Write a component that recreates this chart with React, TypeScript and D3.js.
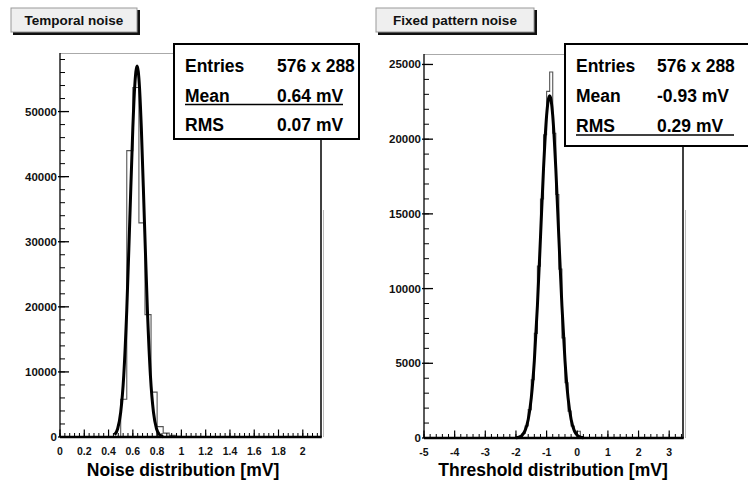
import * as d3 from 'd3';

// ---- Temporal noise (left) ----
const noiseBinWidth = 0.05;
const noiseBinStart = [0.5, 0.55, 0.6, 0.65, 0.7, 0.75, 0.8, 0.85, 0.9, 0.95];
const noiseCounts = [5800, 44000, 53700, 32900, 18800, 6900, 1600, 600, 250, 100];
const noiseFitX = [0.45, 0.475, 0.5, 0.525, 0.55, 0.575, 0.6, 0.615, 0.635, 0.655, 0.67, 0.695, 0.72, 0.745, 0.77, 0.795, 0.82, 0.85];
const noiseFitY = [350, 1270, 3800, 9400, 19500, 33400, 47500, 53700, 57000, 53700, 47500, 33400, 19500, 9400, 3800, 1270, 350, 30];
const noiseStats = [['Entries', '576 x 288'], ['Mean', '0.64 mV'], ['RMS', '0.07 mV']];

// ---- Fixed pattern noise (right) ----
const fpnBinWidth = 0.1;
const fpnBinStart = [-2.0, -1.9, -1.8, -1.7, -1.6, -1.5, -1.4, -1.3, -1.2, -1.1, -1.0, -0.9, -0.8, -0.7, -0.6, -0.5, -0.4, -0.3, -0.2, -0.1, 0.0, 0.1];
const fpnCounts = [30, 100, 300, 800, 1900, 3900, 7000, 11500, 16000, 20300, 23200, 24500, 20400, 16300, 11300, 6700, 3700, 1800, 800, 400, 450, 100];
const fpnFitX = [-2.0, -1.9, -1.8, -1.7, -1.6, -1.5, -1.4, -1.3, -1.2, -1.1, -1.0, -0.95, -0.9, -0.85, -0.8, -0.7, -0.6, -0.5, -0.4, -0.3, -0.2, -0.1, 0.0, 0.1, 0.2];
const fpnFitY = [17, 60, 185, 510, 1240, 2690, 5180, 8850, 13400, 18050, 21580, 22560, 22900, 22560, 21580, 18050, 13400, 8850, 5180, 2690, 1240, 510, 185, 60, 17];
const fpnStats = [['Entries', '576 x 288'], ['Mean', '-0.93 mV'], ['RMS', '0.29 mV']];

const font = "'Liberation Sans', Arial, Helvetica, sans-serif";

type PanelProps = {
  title: string;
  titleBox: [number, number, number, number];
  xDomain: [number, number];
  xRange: [number, number];
  yDomain: [number, number];
  yRange: [number, number];
  xMajor: number;
  xMinor: number;
  yMajor: number;
  yMinor: number;
  xFmt: (v: number) => string;
  xTitle: string;
  xTitleX: number;
  binStart: number[];
  binWidth: number;
  counts: number[];
  fitX: number[];
  fitY: number[];
  stats: string[][];
  statsBox: [number, number, number, number];
  valueX: number;
  rowBase: number[];
  underlineRow: number;
  underlineEnd: number;
};

function Panel(p: PanelProps) {
  const x = d3.scaleLinear().domain(p.xDomain).range(p.xRange);
  const y = d3.scaleLinear().domain(p.yDomain).range(p.yRange);
  const [x0, x1] = p.xRange;
  const [yb, yt] = p.yRange;

  const histPts: [number, number][] = [[p.binStart[0], 0]];
  p.binStart.forEach((e, i) => {
    histPts.push([e, p.counts[i]]);
    histPts.push([e + p.binWidth, p.counts[i]]);
  });
  histPts.push([p.binStart[p.binStart.length - 1] + p.binWidth, 0]);
  const histPath = d3.line<[number, number]>().x(d => x(d[0])).y(d => y(d[1]))(histPts) || '';

  const fitPath = d3.line<number>()
    .x(d => x(p.fitX[d]))
    .y(d => y(p.fitY[d]))
    .curve(d3.curveMonotoneX)(p.fitX.map((_, i) => i)) || '';

  const eps = 1e-9;
  const xMaj = d3.range(p.xDomain[0], p.xDomain[1] + eps, p.xMajor);
  const xMin = d3.range(p.xDomain[0], p.xDomain[1] + eps, p.xMinor);
  const yMaj = d3.range(p.yDomain[0], p.yDomain[1] + eps, p.yMajor);
  const yMin = d3.range(p.yDomain[0], p.yDomain[1] + eps, p.yMinor);

  const [bx, by, bw, bh] = p.statsBox;
  const [tx, ty, tw, th] = p.titleBox;

  return (
    <g fontFamily={font} fontWeight="bold">
      {/* title box */}
      <rect x={tx + 2} y={ty + 2} width={tw + 1} height={th + 1} fill="#111" />
      <rect x={tx} y={ty} width={tw} height={th} fill="#efefef" stroke="#999" strokeWidth={1} />
      <text x={tx + tw / 2} y={ty + th / 2 + 5} textAnchor="middle" fontSize={13.5} fill="#111">{p.title}</text>

      {/* frame */}
      <line x1={x0} x2={bx} y1={yt + 0.5} y2={yt + 0.5} stroke="#aaa" strokeWidth={1} />
      <line x1={x1} x2={x1} y1={by + bh} y2={yb} stroke="#000" strokeWidth={1.5} />
      <line x1={x1 + 2.5} x2={x1 + 2.5} y1={210} y2={yb} stroke="#bbb" strokeWidth={1} />

      {/* histogram and fit */}
      <path d={histPath} fill="none" stroke="#555" strokeWidth={1.1} />
      <path d={fitPath} fill="none" stroke="#000" strokeWidth={3} strokeLinejoin="round" />

      {/* y axis */}
      <line x1={x0} x2={x0} y1={yt} y2={yb} stroke="#000" strokeWidth={1.3} />
      {yMin.map(v => (
        <line key={'ym' + v} x1={x0} x2={x0 + 5} y1={y(v)} y2={y(v)} stroke="#000" strokeWidth={1} />
      ))}
      {yMaj.map(v => (
        <g key={'yM' + v}>
          <line x1={x0 - 2} x2={x0 + 9} y1={y(v)} y2={y(v)} stroke="#000" strokeWidth={1.3} />
          <text x={x0 - 3} y={y(v) + 4} textAnchor="end" fontSize={11.5} fill="#111">{v}</text>
        </g>
      ))}

      {/* x axis */}
      {xMin.map(v => (
        <line key={'xm' + v} x1={x(v)} x2={x(v)} y1={yb} y2={yb - 4} stroke="#000" strokeWidth={1} />
      ))}
      {xMaj.map(v => (
        <g key={'xM' + v}>
          <line x1={x(v)} x2={x(v)} y1={yb} y2={yb - 7.5} stroke="#000" strokeWidth={1.2} />
          <text x={x(v)} y={yb + 18} textAnchor="middle" fontSize={10.5} fill="#111">{p.xFmt(v)}</text>
        </g>
      ))}
      <line x1={x0} x2={x1 + 0.75} y1={yb} y2={yb} stroke="#000" strokeWidth={2.5} />
      <text x={p.xTitleX} y={476} textAnchor="middle" fontSize={17.5} fill="#000">{p.xTitle}</text>

      {/* stats box */}
      <rect x={bx} y={by} width={bw} height={bh} fill="#fff" stroke="#000" strokeWidth={2} />
      {p.stats.map((row, i) => (
        <g key={row[0]}>
          <text x={bx + 11} y={p.rowBase[i]} fontSize={17.5} fill="#000">{row[0]}</text>
          <text x={p.valueX} y={p.rowBase[i]} fontSize={17.5} fill="#000">{row[1]}</text>
        </g>
      ))}
      <line x1={bx + 11} x2={p.underlineEnd} y1={p.rowBase[p.underlineRow] + 3} y2={p.rowBase[p.underlineRow] + 3} stroke="#000" strokeWidth={1.6} />
    </g>
  );
}

export default function App() {
  return (
    <svg width={748} height={482} style={{ position: 'absolute', left: 0, top: 0, background: '#fff' }}>
      <rect width={748} height={482} fill="#fff" />
      <Panel
        title="Temporal noise"
        titleBox={[11, 8, 126, 24]}
        xDomain={[0, 2.15]}
        xRange={[60, 321]}
        yDomain={[0, 59000]}
        yRange={[437, 53]}
        xMajor={0.2}
        xMinor={0.04}
        yMajor={10000}
        yMinor={2000}
        xFmt={v => String(+v.toFixed(1))}
        xTitle="Noise distribution [mV]"
        xTitleX={183}
        binStart={noiseBinStart}
        binWidth={noiseBinWidth}
        counts={noiseCounts}
        fitX={noiseFitX}
        fitY={noiseFitY}
        stats={noiseStats}
        statsBox={[174, 44, 185, 95]}
        valueX={277}
        rowBase={[71.5, 101.5, 131]}
        underlineRow={1}
        underlineEnd={343}
      />
      <Panel
        title="Fixed pattern noise"
        titleBox={[376, 8, 158, 24]}
        xDomain={[-5, 3.45]}
        xRange={[424, 683]}
        yDomain={[0, 25700]}
        yRange={[438, 54]}
        xMajor={1}
        xMinor={0.2}
        yMajor={5000}
        yMinor={1000}
        xFmt={v => String(Math.round(v))}
        xTitle="Threshold distribution [mV]"
        xTitleX={553}
        binStart={fpnBinStart}
        binWidth={fpnBinWidth}
        counts={fpnCounts}
        fitX={fpnFitX}
        fitY={fpnFitY}
        stats={fpnStats}
        statsBox={[565, 44, 186, 102]}
        valueX={657}
        rowBase={[71.5, 102, 132]}
        underlineRow={2}
        underlineEnd={734}
      />
    </svg>
  );
}
